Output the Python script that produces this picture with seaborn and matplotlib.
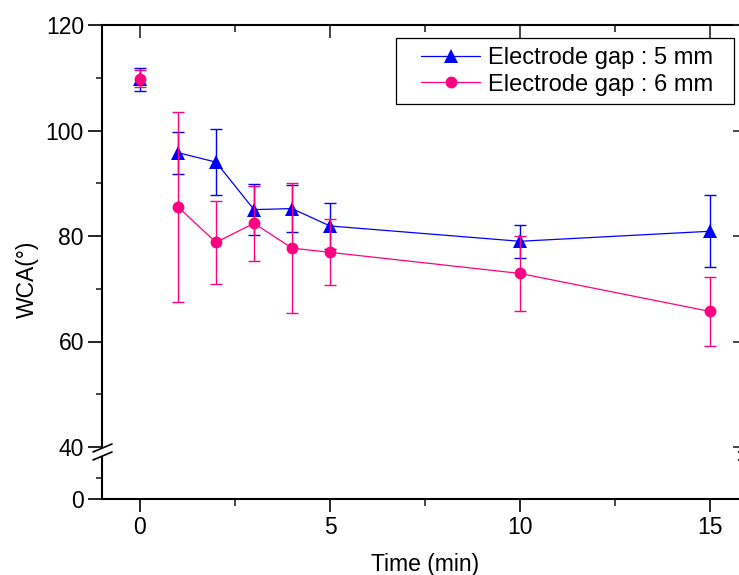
import numpy as np
import pandas as pd
import matplotlib
matplotlib.use("Agg")
import matplotlib.pyplot as plt
from matplotlib.lines import Line2D
from matplotlib.patches import Rectangle
from matplotlib.ticker import MultipleLocator, FixedLocator, NullFormatter
import seaborn as sns

# ---------------- data ----------------
time_min = [0, 1, 2, 3, 4, 5, 10, 15]
wca_gap5 = [109.7, 95.8, 94.0, 85.0, 85.2, 81.9, 79.0, 80.9]
sd_gap5 = [2.2, 4.0, 6.3, 4.9, 4.5, 4.3, 3.1, 6.8]
wca_gap6 = [109.8, 85.5, 78.8, 82.4, 77.7, 76.9, 72.9, 65.7]
sd_gap6 = [1.6, 18.1, 7.85, 7.15, 12.35, 6.25, 7.15, 6.5]
series_labels = ["Electrode gap : 5 mm", "Electrode gap : 6 mm"]
x_ticks = [0, 5, 10, 15]
y_ticks_upper = [40, 60, 80, 100, 120]
y_ticks_lower = [0]

BLUE = "#0000FF"
PINK = "#FF0080"

sns.set_theme(style="ticks")
plt.rcParams["font.family"] = ["Liberation Sans", "DejaVu Sans"]
plt.rcParams["axes.linewidth"] = 1.5
FS = 16.5
LFS = 17

W, H = 739, 575
fig = plt.figure(figsize=(W / 100, H / 100), dpi=100)


def rect(l, t, r, b):
    return [l / W, 1 - b / H, (r - l) / W, (b - t) / H]


ax = fig.add_axes(rect(102, 25, 748, 447))
axb = fig.add_axes(rect(102, 457, 748, 499), sharex=ax)
for a in (ax, axb):
    a.set_facecolor("none")
    a.grid(False)

df5 = pd.DataFrame({"t": time_min, "wca": wca_gap5})
df6 = pd.DataFrame({"t": time_min, "wca": wca_gap6})


def draw_series(df, sd, color, marker, msize, z):
    ax.errorbar(df["t"], df["wca"], yerr=sd, fmt="none", ecolor=color,
                elinewidth=1.0, capsize=4, capthick=1.0, zorder=z)
    # treated samples (t >= 1) joined by a line; untreated point (t = 0) alone
    sns.lineplot(data=df[df["t"] > 0], x="t", y="wca", ax=ax, color=color,
                 linewidth=0.9, marker=marker, markersize=msize,
                 markeredgewidth=0, legend=False, zorder=z + 1)
    sns.lineplot(data=df[df["t"] == 0], x="t", y="wca", ax=ax, color=color,
                 linewidth=0, marker=marker, markersize=msize,
                 markeredgewidth=0, legend=False, zorder=z + 1)


draw_series(df5, sd_gap5, BLUE, "^", 10, 2)
draw_series(df6, sd_gap6, PINK, "o", 8.5, 4)

ax.set_xlim(-1, 16)
ax.set_ylim(40, 120)
axb.set_ylim(0, 20)

# ---- upper axes ticks ----
ax.yaxis.set_major_locator(FixedLocator(y_ticks_upper))
ax.yaxis.set_minor_locator(MultipleLocator(10))
ax.tick_params(axis="y", which="major", direction="out", length=10, width=1.2,
               left=True, right=False, labelsize=FS, pad=3, colors="black")
ax.tick_params(axis="y", which="minor", direction="out", length=4.5, width=1.2,
               left=True, right=False)
ax.tick_params(axis="x", which="both", bottom=False, top=False,
               labelbottom=False, labeltop=False)
for s in ("bottom", "top", "right"):
    ax.spines[s].set_visible(False)
ax.spines["left"].set_color("black")
ax.set_xlabel("")
ax.set_ylabel("WCA(°)", fontsize=FS, color="black")
ax.yaxis.set_label_coords(27 / W, 1 - 279 / H, transform=fig.transFigure)
ax.yaxis.label.set_verticalalignment("center")

secx = ax.secondary_xaxis("top")
secx.xaxis.set_major_locator(FixedLocator(x_ticks))
secx.xaxis.set_minor_locator(MultipleLocator(2.5))
secx.tick_params(axis="x", which="major", direction="in", length=9, width=1.2,
                 labeltop=False)
secx.tick_params(axis="x", which="minor", direction="in", length=5, width=1.2)
secx.spines["top"].set_linewidth(1.5)
secx.spines["top"].set_color("black")

secy = ax.secondary_yaxis("right")
secy.yaxis.set_major_locator(FixedLocator(y_ticks_upper))
secy.yaxis.set_minor_locator(MultipleLocator(10))
secy.tick_params(axis="y", which="major", direction="in", length=11, width=1.2,
                 labelright=False)
secy.tick_params(axis="y", which="minor", direction="in", length=5, width=1.2)

# ---- lower axes ticks ----
axb.yaxis.set_major_locator(FixedLocator(y_ticks_lower))
axb.yaxis.set_minor_locator(FixedLocator([10]))
axb.yaxis.set_minor_formatter(NullFormatter())
axb.tick_params(axis="y", which="major", direction="out", length=10, width=1.2,
                left=True, right=False, labelsize=FS, pad=3, colors="black")
axb.tick_params(axis="y", which="minor", direction="out", length=4.5, width=1.2,
                left=True, right=False)
axb.xaxis.set_major_locator(FixedLocator(x_ticks))
axb.xaxis.set_minor_locator(MultipleLocator(2.5))
axb.xaxis.set_minor_formatter(NullFormatter())
axb.tick_params(axis="x", which="major", direction="out", length=9, width=1.2,
                bottom=True, top=False, labelsize=FS, pad=3, colors="black")
axb.tick_params(axis="x", which="minor", direction="out", length=5, width=1.2,
                bottom=True, top=False)
for s in ("top", "right"):
    axb.spines[s].set_visible(False)
axb.spines["left"].set_color("black")
axb.spines["bottom"].set_color("black")
axb.set_ylabel("")
axb.set_xlabel("Time (min)", fontsize=FS, color="black")
axb.xaxis.set_label_coords(425 / W, 1 - 564 / H, transform=fig.transFigure)
axb.xaxis.label.set_verticalalignment("center")

# ---- axis break marks ----
for xc in (102.5, 748):
    for yc in (448, 456):
        fig.add_artist(Line2D([(xc - 9.5) / W, (xc + 9.5) / W],
                              [1 - (yc + 4) / H, 1 - (yc - 4) / H],
                              transform=fig.transFigure, color="black", lw=1.2))

# ---- legend ----
handles = [
    Line2D([], [], color=BLUE, lw=0.9, marker="^", markersize=10,
           markeredgewidth=0),
    Line2D([], [], color=PINK, lw=0.9, marker="o", markersize=8.5,
           markeredgewidth=0),
]
leg = ax.legend(handles, series_labels, loc="center left",
                bbox_to_anchor=(421 / W, 1 - 71.5 / H),
                bbox_transform=fig.transFigure, borderaxespad=0,
                fontsize=LFS, frameon=False, handlelength=2.5,
                handletextpad=0.34, labelspacing=0.19, borderpad=0)
for t in leg.get_texts():
    t.set_color("black")
fig.add_artist(Rectangle((396 / W, 1 - 104 / H), (734 - 396) / W, 66 / H,
                         transform=fig.transFigure, fill=True,
                         facecolor="white", edgecolor="black", lw=0.9,
                         zorder=6))
leg.set_zorder(7)
fig.add_artist(leg)

fig.savefig("out.png", dpi=100)
